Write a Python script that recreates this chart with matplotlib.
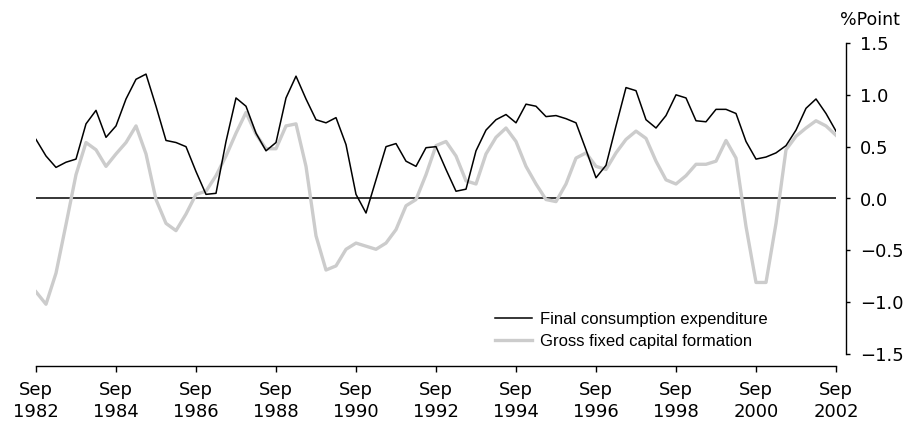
import numpy as np
import matplotlib
matplotlib.use('Agg')
import matplotlib.pyplot as plt

# quarterly, Sep 1982 .. Sep 2002
fce = [0.57, 0.41, 0.30, 0.35, 0.38, 0.72, 0.85, 0.59, 0.70, 0.96, 1.15, 1.20, 0.89, 0.56, 0.54, 0.50, 0.26, 0.04, 0.05, 0.55, 0.97,
       0.89, 0.63, 0.46, 0.54, 0.97, 1.18, 0.96, 0.76, 0.73, 0.78, 0.52, 0.04, -0.14, 0.18, 0.50, 0.53, 0.36, 0.31, 0.49, 0.50,
       0.28, 0.07, 0.09, 0.46, 0.66, 0.76, 0.81, 0.73, 0.91, 0.89, 0.79, 0.80, 0.77, 0.73, 0.47, 0.20, 0.32, 0.70, 1.07, 1.04,
       0.76, 0.68, 0.80, 1.00, 0.97, 0.75, 0.74, 0.86, 0.86, 0.82, 0.55, 0.38, 0.40, 0.44, 0.51, 0.66, 0.87, 0.96, 0.82, 0.65]
gfcf = [-0.90, -1.02, -0.72, -0.25, 0.23, 0.54, 0.47, 0.31, 0.43, 0.54, 0.70, 0.43, -0.01, -0.24, -0.31, -0.15, 0.04, 0.07, 0.22, 0.41, 0.63,
        0.83, 0.62, 0.48, 0.48, 0.70, 0.72, 0.31, -0.36, -0.69, -0.65, -0.49, -0.43, -0.46, -0.49, -0.43, -0.30, -0.07, -0.01, 0.23, 0.51,
        0.55, 0.41, 0.17, 0.14, 0.43, 0.59, 0.68, 0.55, 0.31, 0.14, -0.01, -0.03, 0.14, 0.39, 0.44, 0.31, 0.28, 0.44, 0.57, 0.65,
        0.58, 0.36, 0.18, 0.14, 0.22, 0.33, 0.33, 0.36, 0.56, 0.39, -0.27, -0.81, -0.81, -0.24, 0.47, 0.60, 0.68, 0.75, 0.70, 0.61]
years = [1982, 1984, 1986, 1988, 1990, 1992, 1994, 1996, 1998, 2000, 2002]
tick_labels = ['Sep\n%d' % y for y in years]
yticks = [-1.5, -1.0, -0.5, 0.0, 0.5, 1.0, 1.5]

x = np.arange(len(fce))

fig = plt.figure(figsize=(9.04, 4.23), dpi=100)
ax = fig.add_axes([36/904, 1 - 354/423, 800/904, 311/423])

ax.axhline(0, color='black', lw=1.1, zorder=1)
ax.plot(x, gfcf, color='#cccccc', lw=2.4, label='Gross fixed capital formation', zorder=2)
ax.plot(x, fce, color='black', lw=1.1, label='Final consumption expenditure', zorder=3)

ax.set_xlim(0, 80)
ax.set_ylim(-1.5, 1.5)

for s in ['top', 'left']:
    ax.spines[s].set_visible(False)
ax.spines['bottom'].set_position(('outward', 8.6))
ax.spines['right'].set_position(('outward', 7.2))
ax.spines['bottom'].set_linewidth(1.0)
ax.spines['right'].set_linewidth(1.0)

ax.set_xticks(x[::8])
ax.set_xticklabels(tick_labels, fontsize=13, linespacing=1.3)
ax.tick_params(axis='x', direction='out', length=4.5, width=1.0, pad=6)

ax.yaxis.tick_right()
ax.set_yticks(yticks)
ax.set_yticklabels(['%.1f' % v if v >= 0 else '\u2212%.1f' % -v for v in yticks], fontsize=13)
ax.tick_params(axis='y', direction='out', length=3, width=1.0, pad=7)

fig.text(840/904, 1 - 20/423, '%Point', fontsize=12.5, va='center', ha='left')

h, l = ax.get_legend_handles_labels()
ax.legend(h[::-1], l[::-1], loc='upper left', bbox_to_anchor=(495/904, 1 - 312/423),
          bbox_transform=fig.transFigure, frameon=False,
          prop={'family': 'Liberation Sans', 'size': 12},
          handlelength=2.2, handletextpad=0.5, labelspacing=0.4, borderpad=0, borderaxespad=0)

plt.savefig('out.png', dpi=100)
